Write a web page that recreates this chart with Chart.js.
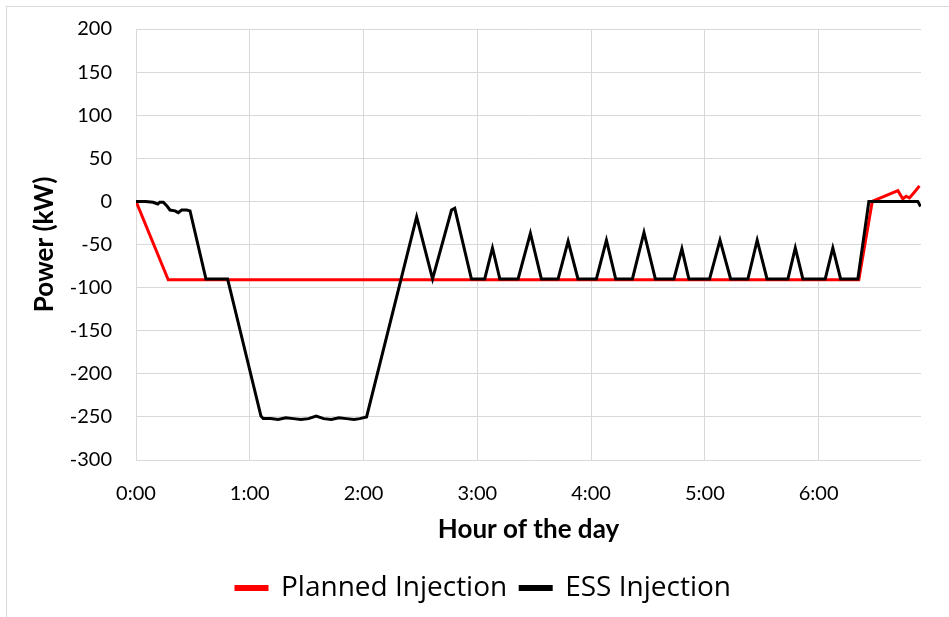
<!DOCTYPE html>
<html>
<head>
<meta charset="utf-8">
<script src="https://cdn.jsdelivr.net/npm/chart.js@4.4.0/dist/chart.umd.min.js"></script>
<style>
  html, body { margin: 0; padding: 0; background: #fff; }
  #wrap { position: relative; width: 949px; height: 617px; }
  #frame { position: absolute; left: 6px; top: 6px; width: 960px; height: 640px; border: 1px solid #d9d9d9; box-sizing: border-box; pointer-events: none; }
  canvas { position: absolute; left: 0; top: 0; }
</style>
</head>
<body>
<div id="wrap">
  <div id="frame"></div>
  <canvas id="c" width="949" height="617"></canvas>
</div>
<script>
// time in minutes since 0:00, power in kW
const plannedTime  = [0, 17, 381.2, 388.3, 401.8, 404.4, 406.2, 407.9, 410.6, 413.2];
const plannedPower = [0, -91, -91, 0, 12.5, 3, 6, 4, 11, 18];

const essTime = [0, 5, 9, 11.5, 12.5, 14.4, 16.2, 17.9, 20.6, 22.3, 24.1, 26.7, 28.5,
  36.9, 48.3, 65.9, 67.1, 71, 75, 79, 83, 87, 91, 95, 99, 103, 107, 111, 115, 118, 121.6,
  148, 156.4, 166.4, 168.1, 176.9, 183.9, 188, 191.9, 201.5, 208, 213.8, 222.6, 227.9, 233.1,
  242.8, 248.1, 253, 261.8, 267.9, 273.9, 283.7, 287.9, 291.6, 302.5, 308, 313.6, 322.7,
  327.6, 332.8, 343.8, 347.7, 351.7, 363.5, 367.5, 371.6, 380.7, 386.5, 412.3, 413.8];
const essPower = [0, 0, -1, -3, -1, -1, -5, -10, -11, -13, -10, -10, -11,
  -90, -90, -249, -252, -252, -253, -251, -252, -253, -252, -249, -252, -253, -251, -252, -253, -252, -250,
  -18, -90, -10, -8, -90, -90, -54, -90, -90, -37, -90, -90, -46, -90,
  -90, -45, -90, -90, -36, -90, -90, -55, -90, -90, -45, -90, -90,
  -45, -90, -90, -54, -90, -90, -54, -90, -90, 0, 0, -6];

const xTickValues = [0, 60, 120, 180, 240, 300, 360];
const seriesNames = ['Planned Injection', 'ESS Injection'];

const toXY = (t, v) => t.map((x, i) => ({ x: x, y: v[i] }));
const FONT = 'Lato, "Open Sans", sans-serif';

const shiftLegend = {
  id: 'shiftLegend',
  afterLayout(chart) {
    if (chart.legend) { chart.legend.left += 23; chart.legend.right += 23; }
  }
};

new Chart(document.getElementById('c'), {
  type: 'line',
  plugins: [shiftLegend],
  data: {
    datasets: [
      { label: seriesNames[0], data: toXY(plannedTime, plannedPower), borderColor: '#ff0000', backgroundColor: '#ff0000',
        borderWidth: 3, pointRadius: 0, tension: 0, order: 1 },
      { label: seriesNames[1], data: toXY(essTime, essPower), borderColor: '#000000', backgroundColor: '#000000',
        borderWidth: 3, pointRadius: 0, tension: 0, order: 0 }
    ]
  },
  options: {
    responsive: false,
    animation: false,
    layout: { padding: { top: 29, right: 28, bottom: 5, left: 0 } },
    plugins: {
      legend: {
        position: 'bottom',
        labels: {
          boxWidth: 31, boxHeight: 3, padding: 13,
          color: '#000', font: { family: '"Open Sans", Lato, sans-serif', size: 28 },
          sort: (a, b) => a.datasetIndex - b.datasetIndex
        }
      },
      tooltip: { enabled: false }
    },
    scales: {
      x: {
        type: 'linear', min: 0, max: 414,
        afterBuildTicks: s => { s.ticks = xTickValues.map(v => ({ value: v })); },
        afterFit: s => { s.height = 101; },
        grid: { color: '#d9d9d9', lineWidth: 1, drawTicks: false },
        border: { display: false },
        ticks: { color: '#000', font: { family: FONT, size: 20 }, padding: 22, maxRotation: 0,
          callback: v => Math.round(v / 60) + ':00' },
        title: { display: true, text: 'Hour of the day', color: '#000',
          font: { family: FONT, size: 26, weight: 'bold' }, padding: { top: 0, bottom: 16 } }
      },
      y: {
        min: -300, max: 200,
        afterFit: s => { s.width = 136; s.paddingTop = 0; s.paddingBottom = 0; },
        grid: { color: '#d9d9d9', lineWidth: 1, drawTicks: false },
        border: { display: false },
        ticks: { stepSize: 50, color: '#000', font: { family: FONT, size: 20 }, padding: 24 },
        title: { display: true, text: 'Power (kW)', color: '#000',
          font: { family: FONT, size: 26, weight: 'bold' }, padding: { top: 29, bottom: 0 } }
      }
    }
  }
});
</script>
</body>
</html>
